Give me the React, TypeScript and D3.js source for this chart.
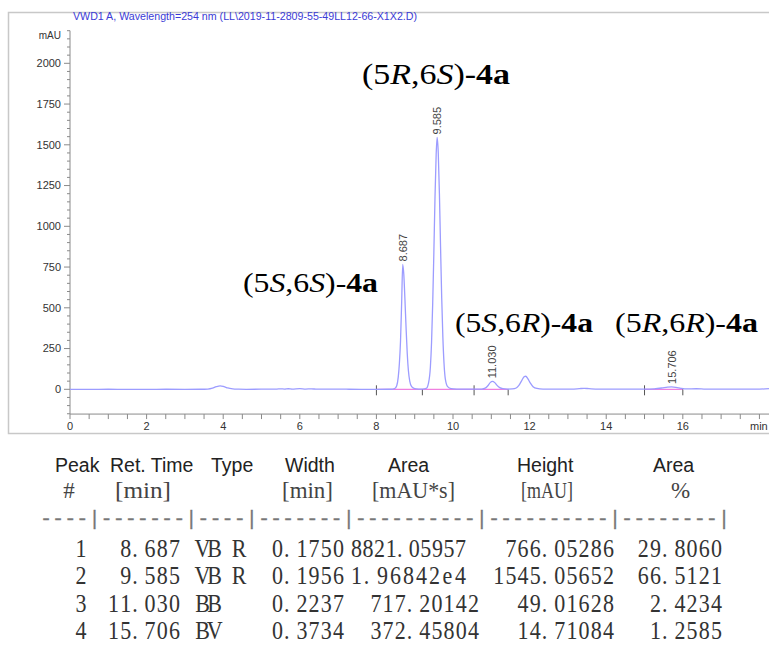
import React from 'react';
import * as d3 from 'd3';

// ---------- chart data ----------
const title = 'VWD1 A, Wavelength=254 nm (LL\\2019-11-2809-55-49LL12-66-X1X2.D)';
const yUnit = 'mAU';
const xUnit = 'min';
const xLabelTicks = [0, 2, 4, 6, 8, 10, 12, 14, 16];
const yLabelTicks = [0, 250, 500, 750, 1000, 1250, 1500, 1750, 2000];

// detector trace: [time (min), signal (mAU)]
const trace: [number, number][] = [
  [0, 0], [0.5, 0], [1, 0.2], [1.5, 0], [2, 0], [2.5, 0.3], [3, 0], [3.4, 0.3],
  [3.6, 1.5], [3.72, 7], [3.82, 16], [3.92, 21], [4.02, 16], [4.12, 8], [4.25, 3], [4.4, 1],
  [4.6, 0], [5.0, 0.5], [5.4, 1.5], [5.5, 3], [5.6, 1.5], [5.7, 3.5], [5.8, 1.5], [6.0, 4],
  [6.15, 1], [6.3, 3], [6.45, 0.5], [6.8, 0.5], [7.2, 0.5], [7.6, 0], [8.0, 0], [8.3, 0.3],
  [8.42, 1.5], [8.48, 5], [8.53, 22], [8.57, 75], [8.6, 160], [8.63, 300], [8.66, 540],
  [8.687, 766], [8.715, 705], [8.745, 550], [8.775, 375], [8.805, 220], [8.835, 115],
  [8.87, 50], [8.92, 16], [9.0, 4], [9.1, 1.5], [9.2, 1],
  [9.3, 5], [9.36, 38], [9.41, 140], [9.44, 290], [9.47, 530], [9.5, 840], [9.53, 1180],
  [9.56, 1440], [9.585, 1545], [9.615, 1450], [9.645, 1200], [9.675, 870], [9.705, 560],
  [9.735, 320], [9.765, 160], [9.8, 62], [9.86, 16], [9.95, 4], [10.1, 1.5], [10.4, 0.5],
  [10.6, 0.5], [10.75, 1.5], [10.84, 7], [10.91, 22], [10.97, 41], [11.03, 49], [11.09, 41],
  [11.15, 24], [11.22, 10], [11.3, 3.5], [11.42, 1.5], [11.55, 2.5], [11.65, 8], [11.72, 24],
  [11.79, 52], [11.86, 78], [11.9, 80], [11.96, 62], [12.02, 38], [12.09, 16], [12.19, 5],
  [12.35, 1.5], [12.7, 0.5], [13.1, 1], [13.3, 4], [13.42, 6], [13.55, 4], [13.8, 1],
  [14.2, 0.5], [14.6, 0.5], [15.0, 1], [15.25, 3], [15.45, 8], [15.6, 13], [15.706, 14.7],
  [15.82, 12], [15.95, 6], [16.1, 2], [16.35, 3.5], [16.6, 1], [17.0, 0.5], [17.5, 0.5],
  [18.0, 1], [18.25, 4],
];

// integration baseline segments and event marks (min)
const baselineStart = [8.0, 15.0];
const baselineEnd = [11.44, 16.0];
const eventTimes = [8.0, 9.2, 10.55, 11.44, 15.0, 16.0];
const eventKinds = ['cross', 'down', 'cross', 'down', 'cross', 'down'];

// isomer annotations
const isoC5 = ['R', 'S', 'S', 'R'];
const isoC6 = ['S', 'S', 'R', 'R'];
const isoSuffix = '4a';

// ---------- report table ----------
const headRow1 = ['Peak', 'Ret. Time', 'Type', 'Width', 'Area', 'Height', 'Area'];
const headRow2 = ['#', '[min]', '', '[min]', '[mAU*s]', '[mAU]', '%'];
const separator = '----|-------|----|-------|----------|----------|--------|';
const peakNo = ['1', '2', '3', '4'];
const retTime = ['8.687', '9.585', '11.030', '15.706'];
const peakType = ['VB R', 'VB R', 'BB', 'BV'];
const peakWidth = ['0.1750', '0.1956', '0.2237', '0.3734'];
const peakArea = ['8821.05957', '1.96842e4', '717.20142', '372.45804'];
const peakHeight = ['766.05286', '1545.05652', '49.01628', '14.71084'];
const areaPct = ['29.8060', '66.5121', '2.4234', '1.2585'];

// ---------- layout constants ----------
const isoX = [362, 243, 455, 615];
const isoY = [84, 292, 332, 332];
const isoW = [148, 135, 138, 143];
const isoSize = [30, 28, 28, 28];
const head1X = [55, 110, 211, 285, 388, 517, 653];
const head2L = [65, 115, 0, 282, 372, 521, 673];
const head2R = [73, 171, 0, 333, 455, 573, 688];
const rowBase = [557, 584.5, 612, 639.5];
const SX = 0.88;
const PITCH = 12.2;
const HW = 4.5;

function rightAligned(text: string, right: number, pitch = PITCH) {
  const n = text.length;
  return Array.from(text).map((ch, i) => right - HW - (n - 1 - i) * pitch - (ch === '.' ? 3 : 0));
}

function leftAligned(text: string, left: number, pitch = PITCH) {
  return Array.from(text).map((_, i) => left + HW + i * pitch);
}

const serif = "'Liberation Serif', 'DejaVu Serif', serif";

function Mono(props: { text: string; centers: number[]; y: number; size: number; fill: string }) {
  const { text, centers, y, size, fill } = props;
  return (
    <text
      transform={`scale(${SX},1)`}
      x={centers.map((c) => (c / SX).toFixed(2)).join(' ')}
      y={y}
      fontSize={size}
      fontFamily={serif}
      textAnchor="middle"
      fill={fill}
    >
      {text}
    </text>
  );
}

export default function App() {
  const W = 769;
  const H = 655;
  const x = d3.scaleLinear().domain([0, 18.25]).range([70, 769]);
  const y = d3.scaleLinear().domain([0, 2000]).range([389.3, 63.3]);
  const yTop = y(2200);
  const yBot = y(-152);
  const axisColor = '#8a8a8a';
  const labelColor = '#333';
  const sans = "'Liberation Sans', Arial, sans-serif";

  const line = d3
    .line<[number, number]>()
    .x((d) => x(d[0]))
    .y((d) => y(d[1]))
    .curve(d3.curveMonotoneX);

  const yMinor = d3.range(-150, 2201, 50);
  const xMinor = d3.range(0, 18.01, 0.5);
  const peakT = retTime.map(Number);
  const peakH = peakHeight.map(Number);

  const areaSpanOverride: Record<number, [number, number]> = { 0: [352, 465], 1: [352, 465] };

  return (
    <svg width={W} height={H} style={{ position: 'absolute', left: 0, top: 0, background: '#fff' }}>
      <rect x={0} y={0} width={W} height={H} fill="#fff" />
      {/* frame */}
      <rect x={8.5} y={12.5} width={800} height={421} fill="none" stroke="#c8c8c8" strokeWidth={1.5} />

      {/* title */}
      <text x={73} y={20} fontSize={10.2} fontFamily={sans} fill="#3b3bd6" textLength={344} lengthAdjust="spacingAndGlyphs">
        {title}
      </text>

      {/* y axis */}
      <line x1={70} x2={70} y1={yTop} y2={yBot} stroke={axisColor} strokeWidth={1} />
      {yMinor.map((v) => (
        <line key={'ym' + v} x1={v % 250 === 0 ? 64 : 67} x2={70} y1={y(v)} y2={y(v)} stroke={axisColor} strokeWidth={1} />
      ))}
      {yLabelTicks.map((v) => (
        <text key={'yl' + v} x={61} y={y(v)} dy="0.35em" fontSize={11} fontFamily={sans} textAnchor="end" fill={labelColor}>
          {v}
        </text>
      ))}
      <text x={61} y={39} fontSize={10} fontFamily={sans} textAnchor="end" fill={labelColor}>
        {yUnit}
      </text>

      {/* x axis */}
      <line x1={70} x2={769} y1={yBot} y2={yBot} stroke={axisColor} strokeWidth={1} />
      {xMinor.map((v) => (
        <line key={'xm' + v} x1={x(v)} x2={x(v)} y1={yBot} y2={yBot + 5} stroke={axisColor} strokeWidth={1} />
      ))}
      {xLabelTicks.map((v) => (
        <text key={'xl' + v} x={x(v)} y={430} fontSize={11} fontFamily={sans} textAnchor="middle" fill={labelColor}>
          {v}
        </text>
      ))}
      <text x={750} y={430} fontSize={11} fontFamily={sans} fill={labelColor}>
        {xUnit}
      </text>

      {/* integration baselines */}
      {baselineStart.map((s, i) => (
        <line key={'bl' + i} x1={x(s)} x2={x(baselineEnd[i])} y1={y(0)} y2={y(0)} stroke="#f080e0" strokeWidth={1.2} />
      ))}
      {eventTimes.map((t, i) => (
        <line
          key={'ev' + i}
          x1={x(t)}
          x2={x(t)}
          y1={eventKinds[i] === 'cross' ? y(0) - 4 : y(0)}
          y2={y(0) + 6}
          stroke="#555"
          strokeWidth={1}
        />
      ))}

      {/* trace */}
      <path d={line(trace) || ''} fill="none" stroke="#9c9cff" strokeWidth={1.3} />

      {/* peak retention-time labels */}
      {peakT.map((t, i) => (
        <text
          key={'pl' + i}
          transform={`translate(${x(t) + 4},${y(peakH[i]) - 3}) rotate(-90)`}
          fontSize={11}
          fontFamily={sans}
          fill="#444"
        >
          {retTime[i]}
        </text>
      ))}

      {/* isomer annotations */}
      {isoC5.map((c5, i) => (
        <text
          key={'iso' + i}
          x={isoX[i]}
          y={isoY[i]}
          fontSize={isoSize[i]}
          fontFamily="'Liberation Serif', 'Times New Roman', serif"
          fill="#000"
          textLength={isoW[i]}
          lengthAdjust="spacingAndGlyphs"
        >
          <tspan>(5</tspan><tspan fontStyle="italic">{c5}</tspan><tspan>,6</tspan><tspan fontStyle="italic">{isoC6[i]}</tspan><tspan>)-</tspan><tspan fontWeight="bold">{isoSuffix}</tspan>
        </text>
      ))}

      {/* table header row 1 */}
      {headRow1.map((h, i) => (
        <text key={'h1' + i} x={head1X[i]} y={472} fontSize={19.5} fontFamily={sans} fill="#222">
          {h}
        </text>
      ))}
      {/* table header row 2 */}
      {headRow2.map((h, i) =>
        !h ? null : h.length === 1 ? (
          <text key={'h2' + i} x={(head2L[i] + head2R[i]) / 2} y={498} fontSize={23} fontFamily={serif} textAnchor="middle" fill="#444">
            {h}
          </text>
        ) : (
          <text
            key={'h2' + i}
            x={head2L[i]}
            y={498}
            fontSize={23}
            fontFamily={serif}
            fill="#444"
            textLength={head2R[i] - head2L[i]}
            lengthAdjust="spacingAndGlyphs"
          >
            {h}
          </text>
        )
      )}
      {/* separator */}
      <text
        x={40}
        y={525}
        fontSize={21}
        fontFamily="'Liberation Mono', 'DejaVu Sans Mono', monospace"
        fill="#777"
        stroke="#777"
        strokeWidth={0.3}
        textLength={690}
        lengthAdjust="spacingAndGlyphs"
      >
        {separator}
      </text>

      {/* data rows */}
      {peakNo.map((p, r) => {
        const yb = rowBase[r];
        const ar = areaSpanOverride[r];
        return (
          <g key={'row' + r}>
            <Mono text={p} centers={[81]} y={yb} size={25} fill="#333" />
            <Mono text={retTime[r]} centers={rightAligned(retTime[r], 179)} y={yb} size={25} fill="#333" />
            <Mono text={peakType[r]} centers={leftAligned(peakType[r], 198)} y={yb} size={25} fill="#333" />
            <Mono text={peakWidth[r]} centers={rightAligned(peakWidth[r], 343)} y={yb} size={25} fill="#333" />
            <Mono
              text={peakArea[r]}
              centers={
                ar
                  ? rightAligned(peakArea[r], ar[1], (ar[1] - ar[0] - 2 * HW) / (peakArea[r].length - 1))
                  : rightAligned(peakArea[r], 478)
              }
              y={yb}
              size={25}
              fill="#333"
            />
            <Mono text={peakHeight[r]} centers={rightAligned(peakHeight[r], 613)} y={yb} size={25} fill="#333" />
            <Mono text={areaPct[r]} centers={rightAligned(areaPct[r], 721)} y={yb} size={25} fill="#333" />
          </g>
        );
      })}
    </svg>
  );
}
